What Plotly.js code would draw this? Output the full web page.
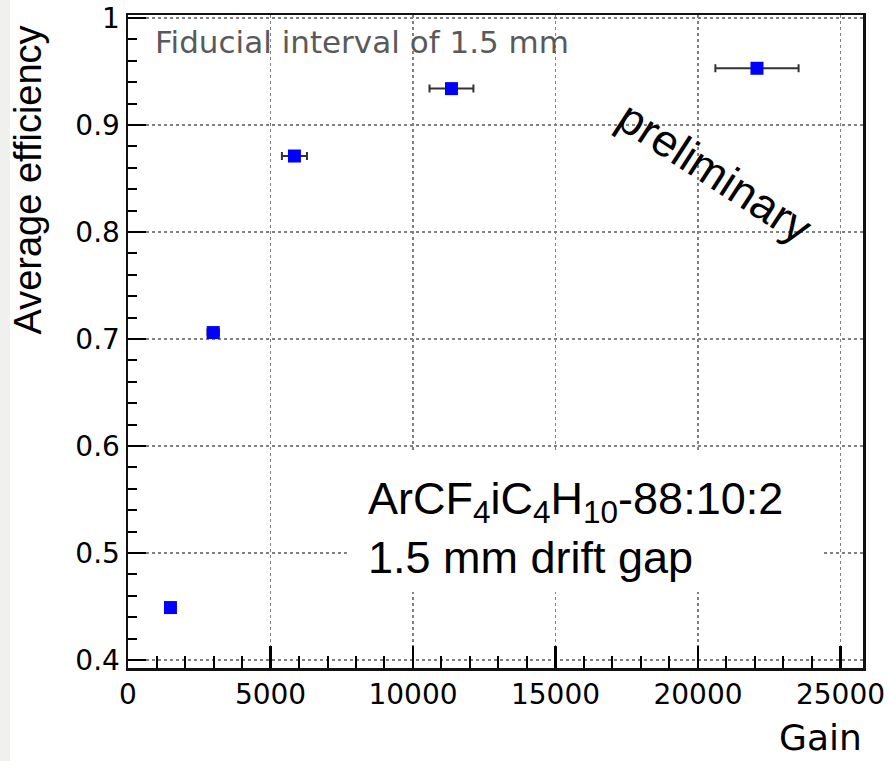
<!DOCTYPE html>
<html>
<head>
<meta charset="utf-8">
<script src="https://cdn.plot.ly/plotly-3.0.1.min.js"></script>
<style>
html,body{margin:0;padding:0;background:#fff;}
#chart{width:889px;height:761px;}
</style>
</head>
<body>
<div id="chart"></div>
<script>
// Data
const gain = [1490, 2990, 5840, 11350, 22070];
const gainErr = [150, 200, 440, 770, 1460];
const efficiency = [0.449, 0.706, 0.871, 0.934, 0.953];
const xTickVals = [0, 5000, 10000, 15000, 20000, 25000];
const xTickText = ["0", "5000", "10000", "15000", "20000", "25000"];
const yTickVals = [0.4, 0.5, 0.6, 0.7, 0.8, 0.9, 1];
const yTickText = ["0.4", "0.5", "0.6", "0.7", "0.8", "0.9", "1"];

const trace = {
  type: 'scatter',
  mode: 'markers',
  x: gain,
  y: efficiency,
  error_x: {type: 'data', array: gainErr, symmetric: true, visible: true, color: '#333333', thickness: 2, width: 4},
  marker: {symbol: 'square', size: 13, color: '#0000ff', line: {width: 0}},
  showlegend: false,
  hoverinfo: 'x+y'
};

const W = 735, H = 653; // plot area size in px
const layout = {
  width: 889, height: 761,
  margin: {l: 128, r: 26, t: 15, b: 93, pad: 0},
  paper_bgcolor: '#ffffff',
  plot_bgcolor: '#ffffff',
  showlegend: false,
  xaxis: {
    range: [0, 25790],
    tickmode: 'array', tickvals: xTickVals, ticktext: xTickText,
    ticks: 'inside', ticklen: 22, tickwidth: 2.5, tickcolor: '#000',
    showline: true, linecolor: '#111', linewidth: 2.5, mirror: true,
    showgrid: true, gridcolor: '#808080', griddash: 'dot', gridwidth: 1.5,
    zeroline: false,
    tickfont: {family: 'DejaVu Sans', size: 28, color: '#000'},
    minor: {dtick: 1000, tick0: 0, ticks: 'inside', ticklen: 12, tickwidth: 2, tickcolor: '#000', showgrid: false}
  },
  yaxis: {
    range: [0.3925, 1.0028],
    tickmode: 'array', tickvals: yTickVals, ticktext: yTickText,
    ticks: 'inside', ticklen: 18, tickwidth: 2.5, tickcolor: '#000',
    showline: true, linecolor: '#111', linewidth: 2.5, mirror: true,
    showgrid: true, gridcolor: '#808080', griddash: 'dot', gridwidth: 1.5,
    zeroline: false,
    tickfont: {family: 'DejaVu Sans', size: 28, color: '#000'},
    minor: {dtick: 0.02, tick0: 0.4, ticks: 'inside', ticklen: 9, tickwidth: 2, tickcolor: '#000', showgrid: false}
  },
  shapes: [
    {type: 'rect', xref: 'paper', yref: 'paper',
     x0: -128 / W, x1: -118 / W, y0: -93 / H, y1: 1 + 15 / H,
     fillcolor: '#f0f0ef', line: {width: 0}, layer: 'below'},
    {type: 'rect', xref: 'x', yref: 'y',
     x0: 7680, x1: 24390, y0: 0.4636, y1: 0.5935,
     fillcolor: '#ffffff', line: {width: 0}, layer: 'between'}
  ],
  annotations: [
    {text: 'Average efficiency', textangle: -90, showarrow: false,
     xref: 'paper', yref: 'paper', x: -100 / W, y: (668 - 24) / H,
     xanchor: 'center', yanchor: 'top',
     font: {family: 'Liberation Sans', size: 38, color: '#000'}},
    {text: 'Gain', showarrow: false, borderpad: 0,
     xref: 'paper', yref: 'paper', x: 1, y: -69 / H,
     xanchor: 'right', yanchor: 'middle',
     font: {family: 'DejaVu Sans', size: 36, color: '#000'}},
    {text: 'Fiducial interval of 1.5 mm', showarrow: false,
     xref: 'paper', yref: 'paper', x: (153 - 128) / W, y: (668 - 42) / H,
     xanchor: 'left', yanchor: 'middle',
     font: {family: 'DejaVu Sans', size: 31, color: '#5a5a5a'}},
    {text: 'preliminary', textangle: 33, showarrow: false,
     xref: 'paper', yref: 'paper', x: (715 - 128) / W, y: (668 - 172) / H,
     xanchor: 'center', yanchor: 'middle',
     font: {family: 'Liberation Sans', size: 45, color: '#000'}},
    {text: 'ArCF<sub>4</sub>iC<sub>4</sub>H<sub>10</sub>-88:10:2<br>1.5 mm drift gap', showarrow: false,
     align: 'left',
     xref: 'paper', yref: 'paper', x: (366 - 128) / W, y: (668 - 528) / H,
     xanchor: 'left', yanchor: 'middle',
     font: {family: 'Liberation Sans', size: 45, color: '#000'}}
  ]
};

Plotly.newPlot('chart', [trace], layout, {displayModeBar: false, staticPlot: true});
</script>
</body>
</html>
